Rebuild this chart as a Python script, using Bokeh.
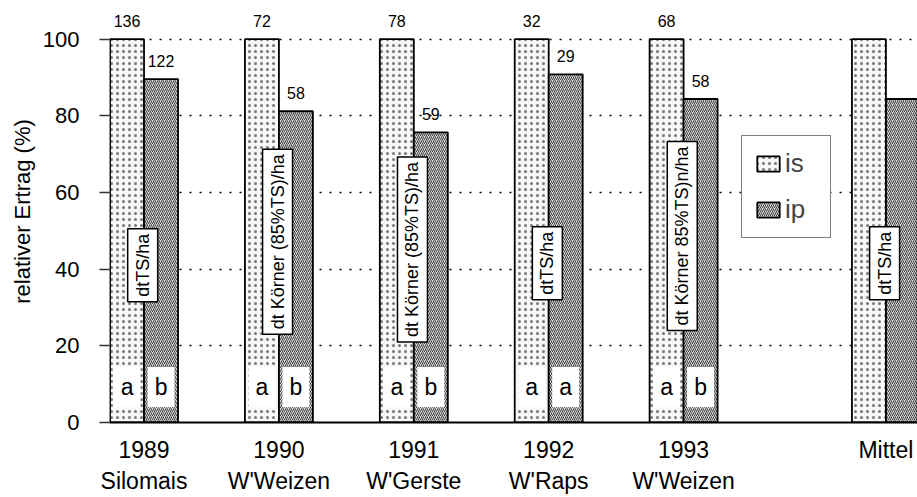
from bokeh.plotting import figure
from bokeh.models import ColumnDataSource, FixedTicker, Label, Legend, LegendItem, Range1d
from bokeh.embed import file_html
from bokeh.resources import INLINE
from bokeh.core.properties import value

# ---- data -------------------------------------------------------------
groups = ["1989\nSilomais", "1990\nW'Weizen", "1991\nW'Gerste", "1992\nW'Raps", "1993\nW'Weizen", "Mittel"]
group_pos = [0, 1, 2, 3, 4, 5.5]
is_rel = [100, 100, 100, 100, 100, 100]
ip_rel = [89.6, 81.2, 75.7, 90.8, 84.4, 84.4]
is_abs = ["136", "72", "78", "32", "68", ""]
ip_abs = ["122", "58", "59", "29", "58", ""]
is_letter = ["a", "a", "a", "a", "a", ""]
ip_letter = ["b", "b", "b", "a", "b", ""]
units = ["dtTS/ha", "dt Körner (85%TS)/ha", "dt Körner (85%TS)/ha", "dtTS/ha",
         "dt Körner 85%TS)n/ha", "dtTS/ha"]
unit_base = [31.5, 23.0, 21.0, 32.0, 24.0, 32.0]
y_ticks = [0, 20, 40, 60, 80, 100]

FONT = "Liberation Sans"
BW = 0.252

is_x = [g - BW / 2 for g in group_pos]
ip_x = [g + BW / 2 for g in group_pos]

p = figure(width=917, height=497, output_backend="svg", toolbar_location=None,
           x_range=Range1d(-0.256, 5.734), y_range=Range1d(0, 110.1),
           min_border_left=109, min_border_right=0, min_border_top=0, min_border_bottom=73)
p.outline_line_color = None
p.background_fill_color = "white"

p.ygrid.ticker = FixedTicker(ticks=y_ticks)
p.ygrid.grid_line_color = "black"
p.ygrid.grid_line_dash = "2 8"
p.ygrid.grid_line_width = 1.5
p.xgrid.grid_line_color = None

is_src = ColumnDataSource(dict(x=is_x, top=is_rel))
ip_src = ColumnDataSource(dict(x=ip_x, top=ip_rel))

r_is = p.vbar(x="x", top="top", width=BW, bottom=0, source=is_src,
              fill_color="#f7f7f7", line_color="black", line_width=1.8,
              hatch_pattern="dot", hatch_color="#222222", hatch_scale=6,
              hatch_weight=1.0, hatch_alpha=0.6)
r_ip = p.vbar(x="x", top="top", width=BW, bottom=0, source=ip_src,
              fill_color="#d0d0d0", line_color="black", line_width=1.8,
              hatch_pattern="right_diagonal_line", hatch_color="#444444",
              hatch_scale=4, hatch_weight=1.0)

# white boxes with significance letters
lx, lt = [], []
for xs, letters in ((is_x, is_letter), (ip_x, ip_letter)):
    for x, t in zip(xs, letters):
        if t:
            lx.append(x)
            lt.append(t)
p.quad(left=[x - 0.1 for x in lx], right=[x + 0.1 for x in lx], bottom=4, top=14.5,
       fill_color="white", line_color=None)
p.text(x=lx, y=[9.2] * len(lx), text=lt, text_align="center", text_baseline="middle",
       text_font=value(FONT), text_font_size="23px", text_color="black")

# absolute values above the bars
ax, ay, at = [], [], []
for xs, tops, labels in ((is_x, is_rel, is_abs), (ip_x, ip_rel, ip_abs)):
    for x, t, s in zip(xs, tops, labels):
        if s:
            ax.append(x)
            ay.append(t + 3.2)
            at.append(s)
p.text(x=ax, y=ay, text=at, text_align="center", text_baseline="bottom",
       text_font=value(FONT), text_font_size="16px", text_color="black")

# rotated unit labels
for g, base, u in zip(group_pos, unit_base, units):
    lab = Label(x=g - 0.01, y=base, text=u, angle=90, angle_units="deg",
                text_align="left", text_baseline="middle",
                text_font=FONT, text_font_size="18px", text_color="black",
                background_fill_color="white", border_line_color="black",
                border_line_width=1.5, padding=5)
    p.add_layout(lab)

# axes
p.xaxis.ticker = FixedTicker(ticks=group_pos)
p.xaxis.major_label_overrides = {g: s for g, s in zip(group_pos, groups)}
p.xaxis.major_tick_line_color = None
p.xaxis.major_tick_out = 0
p.xaxis.major_tick_in = 0
p.xaxis.minor_tick_line_color = None
p.xaxis.axis_line_color = "black"
p.xaxis.axis_line_width = 2
p.xaxis.major_label_text_font = FONT
p.xaxis.major_label_text_font_size = "23px"
p.xaxis.major_label_text_color = "black"
p.xaxis.major_label_standoff = 14
p.xaxis.major_label_text_line_height = 1.22

p.yaxis.ticker = FixedTicker(ticks=y_ticks)
p.yaxis.axis_line_color = None
p.yaxis.major_tick_out = 10
p.yaxis.major_tick_in = 0
p.yaxis.major_tick_line_color = "#333333"
p.yaxis.major_tick_line_width = 1.5
p.yaxis.minor_tick_line_color = None
p.yaxis.major_label_text_font = FONT
p.yaxis.major_label_text_font_size = "22px"
p.yaxis.major_label_text_color = "black"
p.yaxis.major_label_standoff = 20
p.yaxis.axis_label = "relativer Ertrag (%)"
p.yaxis.axis_label_text_font = FONT
p.yaxis.axis_label_text_font_size = "22px"
p.yaxis.axis_label_text_font_style = "normal"
p.yaxis.axis_label_text_color = "black"
p.yaxis.axis_label_standoff = 5

legend = Legend(items=[LegendItem(label="is", renderers=[r_is]),
                       LegendItem(label="ip", renderers=[r_ip])],
                location=(632, 184), orientation="vertical",
                label_text_font=FONT, label_text_font_size="26px",
                glyph_width=28, glyph_height=19, label_height=20, label_width=33,
                label_standoff=3, spacing=15, padding=12, margin=0,
                border_line_color="black", border_line_width=1.5,
                background_fill_color="white", background_fill_alpha=1)
p.add_layout(legend)

open("out.html", "w").write(file_html(p, INLINE))
